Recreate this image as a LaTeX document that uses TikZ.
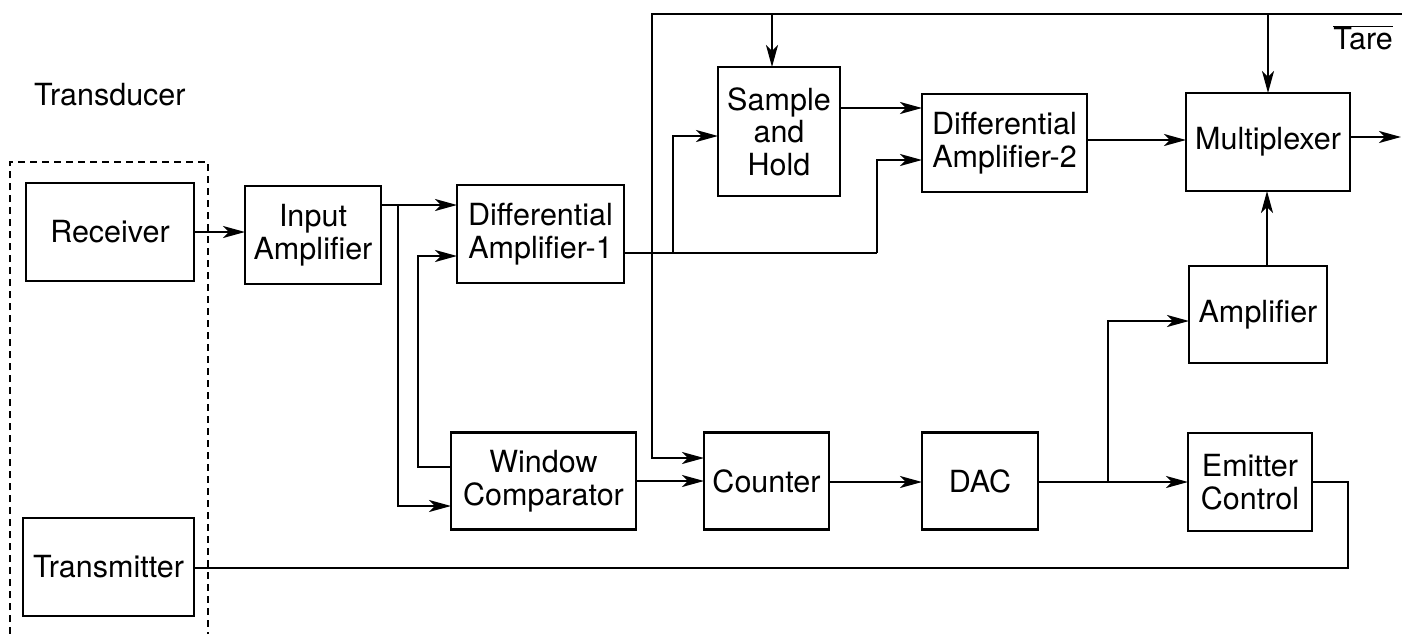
\documentclass[tikz,border=0pt]{standalone}
\usepackage{fontspec}
\setmainfont{TeX Gyre Heros}
\usetikzlibrary{arrows.meta}
\tikzset{
  blk/.style={draw, line width=2.6pt, inner sep=0pt, outer sep=0pt, align=center,
    font=\fontsize{30.5}{32.5}\selectfont},
  wire/.style={line width=2.2pt},
  arr/.style={wire, -{Stealth[length=22pt, width=12pt, inset=6pt]}},
  lbl/.style={font=\fontsize{30.5}{32.5}\selectfont, inner sep=0pt}
}
\begin{document}
\begin{tikzpicture}[x=1pt, y=-1pt]
\useasboundingbox (0,0) rectangle (1402,634);
% dashed transducer enclosure
\draw[line width=2.2pt, dash pattern=on 7pt off 5pt] (10,634) -- (10,162) -- (208,162) -- (208,634);
\node[lbl, anchor=west] (tdlbl) at (34,95) {Transducer};
% blocks
\node[blk, minimum width=168pt, minimum height=98pt] (recv) at (110,232) {Receiver};
\node[blk, minimum width=171pt, minimum height=98pt] (tx) at (108.5,567) {Transmitter};
\node[blk, minimum width=136pt, minimum height=98pt] (inamp) at (313,235) {Input\\Amplifier};
\node[blk, minimum width=167pt, minimum height=98pt] (da1) at (540.5,234) {Differential\\Amplifier-1};
\node[blk, minimum width=185pt, minimum height=97pt] (wc) at (543.5,481) {Window\\Comparator};
\node[blk, minimum width=125pt, minimum height=97pt] (counter) at (766.5,481) {Counter};
\node[blk, minimum width=116pt, minimum height=97pt] (dac) at (980,481) {DAC};
\node[blk, minimum width=122pt, minimum height=129pt] (sh) at (779,131.5) {Sample\\and\\Hold};
\node[blk, minimum width=165pt, minimum height=98pt] (da2) at (1004.5,143) {Differential\\Amplifier-2};
\node[blk, minimum width=164pt, minimum height=98pt] (mux) at (1268,142) {Multiplexer};
\node[blk, minimum width=138pt, minimum height=97pt] (amp) at (1258,314.5) {Amplifier};
\node[blk, minimum width=124pt, minimum height=98pt] (ec) at (1250,482) {Emitter\\Control};
\node[lbl, anchor=east] (tare) at (1393,38) {$\overline{\hbox{Tare}}$};
% junction coordinates
\coordinate (b1) at (398,205);
\coordinate (b2) at (398,506);
\coordinate (c1) at (418,467);
\coordinate (c2) at (418,256);
\coordinate (d1) at (673,253);
\coordinate (d2) at (877,253);
\coordinate (e1) at (673,136);
\coordinate (e2) at (877,160);
\coordinate (f1) at (880,108);
\coordinate (g1) at (1100,140);
\coordinate (g2) at (1100,137);
\coordinate (out) at (1401,137);
\coordinate (tl) at (652,14);
\coordinate (tr) at (1402,14);
\coordinate (h1) at (652,458);
\coordinate (s1) at (772,14);
\coordinate (k1) at (1108,482);
\coordinate (k2) at (1108,321);
\coordinate (a1) at (1267,266);
\coordinate (m1) at (1348,568);
% connectors
\draw[arr] (recv.east) -- (recv.east -| inamp.west);
\draw[arr] (inamp.east |- b1) -- (b1 -| da1.west);
\draw[arr] (b1) -- (b2) -- (b2 -| wc.west);
\draw[arr] (c1 -| wc.west) -- (c1) -- (c2) -- (c2 -| da1.west);
\draw[wire] (da1.east |- d1) -- (d2);
\draw[arr] (d2) -- (e2) -- (e2 -| da2.west);
\draw[arr] (d1) -- (e1) -- (e1 -| sh.west);
\draw[arr] (f1 -| sh.east) -- (f1 -| da2.west);
\draw[arr] (g1 -| da2.east) -- (g1 -| mux.west);
\draw[arr] (g2 -| mux.east) -- (out);
\draw[arr] (tr) -- (tl) -- (h1) -- (h1 -| counter.west);
\draw[arr] (s1) -- (s1 |- sh.north);
\draw[arr] (mux.north |- tl) -- (mux.north);
\draw[arr] (wc.east |- counter.west) -- (counter.west);
\draw[arr] (counter.east |- k1) -- (k1 -| dac.west);
\draw[arr] (dac.east |- k1) -- (k1 -| ec.west);
\draw[arr] (k1) -- (k2) -- (k2 -| amp.west);
\draw[arr] (a1) -- (a1 |- mux.south);
\draw[wire] (ec.east) -- (ec.east -| m1) -- (m1) -- (m1 -| tx.east);
\end{tikzpicture}
\end{document}
